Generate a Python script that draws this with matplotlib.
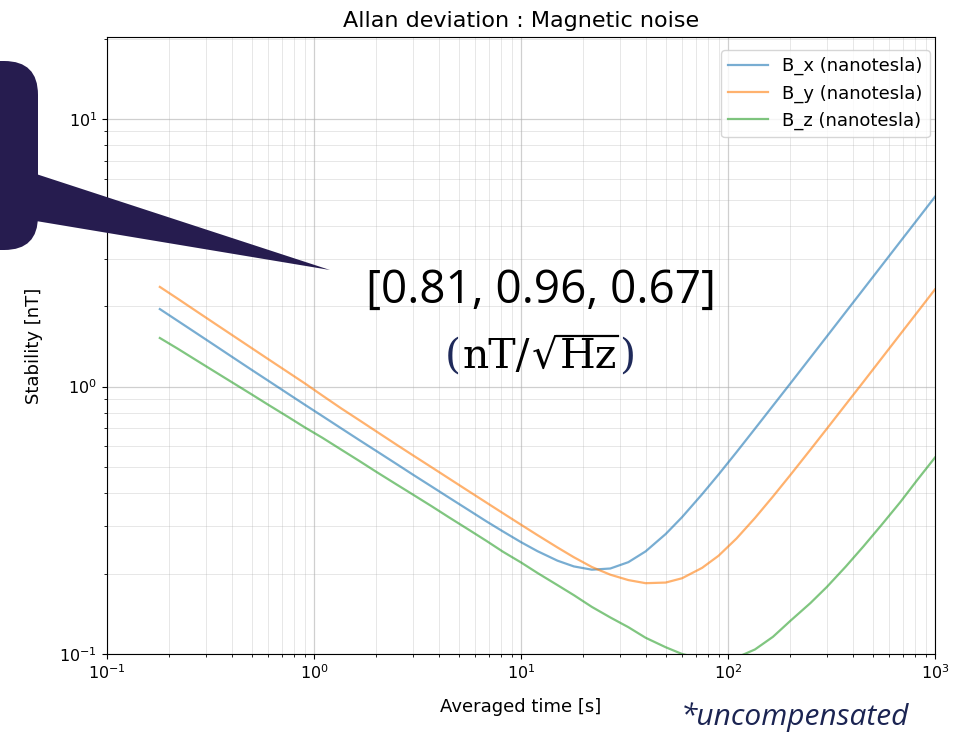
import matplotlib
matplotlib.use("Agg")
import matplotlib.pyplot as plt
from matplotlib.patches import FancyBboxPatch, Polygon
from matplotlib.lines import Line2D
from matplotlib.textpath import TextPath
from matplotlib.font_manager import FontProperties

# averaging times [s] and Allan deviation [nT]
tau = [0.18, 0.22, 0.27, 0.33, 0.4, 0.5, 0.6, 0.75, 0.9, 1.1, 1.35, 1.65,
       2, 2.5, 3, 3.7, 4.5, 5.5, 6.8, 8.2, 10, 12, 15, 18, 22, 27, 33, 40,
       50, 60, 75, 90, 110, 135, 165, 200, 250, 300, 370, 450, 550, 680,
       820, 1000]

dev_x = [1.95, 1.76, 1.585, 1.43, 1.295, 1.155, 1.053, 0.94, 0.857, 0.775,
         0.699, 0.632, 0.5745, 0.514, 0.469, 0.423, 0.384, 0.348, 0.3135,
         0.287, 0.262, 0.2425, 0.2234, 0.2126, 0.2067, 0.2088, 0.2205,
         0.242, 0.281, 0.325, 0.396, 0.469, 0.569, 0.696, 0.849, 1.027,
         1.283, 1.539, 1.898, 2.308, 2.821, 3.488, 4.205, 5.13]

dev_y = [2.36, 2.13, 1.915, 1.726, 1.563, 1.393, 1.268, 1.131, 1.03, 0.925,
         0.83, 0.75, 0.68, 0.607, 0.554, 0.4992, 0.4527, 0.4095,
         0.3685, 0.3358, 0.3045, 0.2785, 0.2503, 0.2301, 0.2115, 0.198,
         0.189, 0.184, 0.185, 0.192, 0.21, 0.233, 0.2705, 0.3226, 0.3884,
         0.4669, 0.5807, 0.6952, 0.8561, 1.0395, 1.2706, 1.5708, 1.894, 2.31]

dev_z = [1.52, 1.385, 1.255, 1.14, 1.04, 0.935, 0.856, 0.77, 0.705, 0.643,
         0.582, 0.528, 0.48, 0.431, 0.395, 0.357, 0.324, 0.294, 0.265,
         0.241, 0.22, 0.201, 0.181, 0.166, 0.15, 0.137, 0.126, 0.115,
         0.106, 0.1, 0.096, 0.095, 0.097, 0.104, 0.116, 0.133, 0.155,
         0.178, 0.212, 0.252, 0.303, 0.37, 0.447, 0.543]

labels = ["B_x (nanotesla)", "B_y (nanotesla)", "B_z (nanotesla)"]
colors = ["#1f77b4", "#ff7f0e", "#2ca02c"]

noise_text = "[0.81, 0.96, 0.67]"
navy = "#261c4f"
unit_navy = "#1f2a5a"

W, H = 966, 738
fig = plt.figure(figsize=(W / 100, H / 100), dpi=100)
ax = fig.add_axes([107 / W, 1 - 654 / H, (935 - 107) / W, (654 - 37) / H])

for d, name, c in zip([dev_x, dev_y, dev_z], labels, colors):
    ax.plot(tau, d, color=c, alpha=0.6, lw=1.6, label=name)

ax.set_xscale("log")
ax.set_yscale("log")
ax.set_xlim(0.1, 1000)
ax.set_ylim(0.1, 20.3)
ax.grid(True, which="major", color="#b0b0b0", alpha=0.6, lw=0.9)
ax.grid(True, which="minor", color="#b0b0b0", alpha=0.3, lw=0.7)
ax.tick_params(labelsize=11.5)
ax.set_title("Allan deviation : Magnetic noise", fontsize=16, pad=7)
ax.set_xlabel("Averaged time [s]", fontsize=13, labelpad=11)
ax.set_ylabel("Stability [nT]", fontsize=13, labelpad=12)
ax.legend(loc="upper right", fontsize=13, handlelength=2.2,
          bbox_to_anchor=(930 / W, 1 - 50 / H),
          bbox_transform=fig.transFigure, borderaxespad=0)


def px(x, y):
    # pixel position (from top-left) to figure fraction
    return (x / W, 1 - y / H)


# speech-bubble callout on the left edge
bx, by = px(-60, 250)
box = FancyBboxPatch(
    (bx, by), 98 / W, 189 / H,
    boxstyle="round,pad=0,rounding_size=0.035",
    mutation_aspect=W / H,
    transform=fig.transFigure, facecolor=navy, edgecolor="none", zorder=5)
fig.patches.append(box)
tail = Polygon([px(30, 172), px(30, 220), px(330, 270)], closed=True,
               transform=fig.transFigure, facecolor=navy, edgecolor="none",
               zorder=5)
fig.patches.append(tail)

fig.text(541 / W, 1 - 291 / H, noise_text, ha="center", va="center",
         fontsize=33, family="Open Sans", color="black")

# unit line (nT/sqrt(Hz)), built from pieces so the parentheses can be navy
fs = 29.5
serif = FontProperties(family="DejaVu Serif", size=fs)
base_y = 1 - 368 / H
pieces = [("(", unit_navy), ("nT/", "black"), ("\u221a", "black"),
          ("Hz", "black"), (")", unit_navy)]
texts = []
for s, c in pieces:
    texts.append(fig.text(0, base_y, s, ha="left", va="baseline",
                          fontproperties=serif, color=c))
fig.canvas.draw()
r = fig.canvas.get_renderer()
widths = [t.get_window_extent(r).width + 2 for t in texts]
x = 541 - sum(widths) / 2
edges = []
for t, w in zip(texts, widths):
    t.set_x(x / W)
    edges.append((x, x + w))
    x += w
em = fs * 100 / 72
root_top = TextPath((0, 0), "\u221a", size=1,
                    prop=FontProperties(family="DejaVu Serif")).get_extents().y1
bar_y = base_y + root_top * em / H - 1 / H
fig.add_artist(Line2D([(edges[2][1] - 3) / W, (edges[3][1] - 1) / W],
                      [bar_y, bar_y], transform=fig.transFigure,
                      color="black", lw=1.6))

fig.text(795 / W, 1 - 717 / H, "*uncompensated", ha="center", va="center",
         fontsize=21.5, family="Open Sans", style="italic", color="#1b2452")

fig.savefig("out.png", dpi=100)
